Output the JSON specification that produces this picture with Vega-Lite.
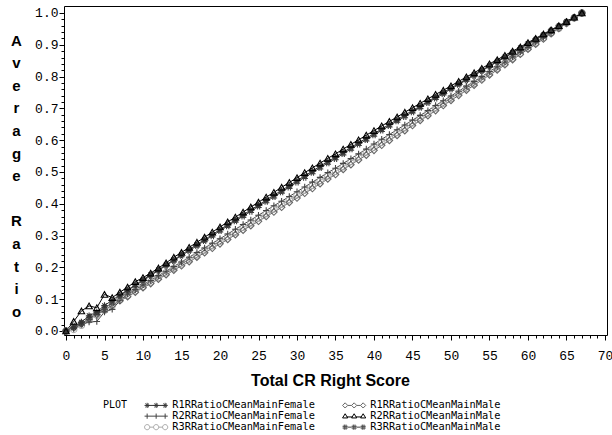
{
"$schema": "https://vega.github.io/schema/vega-lite/v6.json",
"width": 543, "height": 329,
"autosize": "none",
"padding": {"left": 64, "top": 6, "right": 5, "bottom": 100},
"background": "white",
"config": {"view": {"stroke": "black", "strokeWidth": 1}, "axis": {"grid": false, "domain": false, "tickColor": "black", "tickWidth": 1, "labelColor": "black", "titleColor": "black"}},
"data": {"values": [
{"s":"C","x":0,"y":0},{"s":"C","x":1,"y":0.005},{"s":"C","x":2,"y":0.018},{"s":"C","x":3,"y":0.035},{"s":"C","x":4,"y":0.050},{"s":"C","x":5,"y":0.065},{"s":"C","x":6,"y":0.080},{"s":"C","x":7,"y":0.098},{"s":"C","x":8,"y":0.112},{"s":"C","x":9,"y":0.126},{"s":"C","x":10,"y":0.140},{"s":"C","x":11,"y":0.154},{"s":"C","x":12,"y":0.168},{"s":"C","x":13,"y":0.183},{"s":"C","x":14,"y":0.197},{"s":"C","x":15,"y":0.211},{"s":"C","x":16,"y":0.225},{"s":"C","x":17,"y":0.239},{"s":"C","x":18,"y":0.254},{"s":"C","x":19,"y":0.268},{"s":"C","x":20,"y":0.282},{"s":"C","x":21,"y":0.297},{"s":"C","x":22,"y":0.311},{"s":"C","x":23,"y":0.326},{"s":"C","x":24,"y":0.340},{"s":"C","x":25,"y":0.355},{"s":"C","x":26,"y":0.369},{"s":"C","x":27,"y":0.384},{"s":"C","x":28,"y":0.399},{"s":"C","x":29,"y":0.413},{"s":"C","x":30,"y":0.428},{"s":"C","x":31,"y":0.443},{"s":"C","x":32,"y":0.458},{"s":"C","x":33,"y":0.473},{"s":"C","x":34,"y":0.488},{"s":"C","x":35,"y":0.502},{"s":"C","x":36,"y":0.517},{"s":"C","x":37,"y":0.533},{"s":"C","x":38,"y":0.548},{"s":"C","x":39,"y":0.563},{"s":"C","x":40,"y":0.578},{"s":"C","x":41,"y":0.593},{"s":"C","x":42,"y":0.609},{"s":"C","x":43,"y":0.624},{"s":"C","x":44,"y":0.639},{"s":"C","x":45,"y":0.654},{"s":"C","x":46,"y":0.670},{"s":"C","x":47,"y":0.685},{"s":"C","x":48,"y":0.701},{"s":"C","x":49,"y":0.716},{"s":"C","x":50,"y":0.732},{"s":"C","x":51,"y":0.748},{"s":"C","x":52,"y":0.763},{"s":"C","x":53,"y":0.779},{"s":"C","x":54,"y":0.794},{"s":"C","x":55,"y":0.810},{"s":"C","x":56,"y":0.826},{"s":"C","x":57,"y":0.842},{"s":"C","x":58,"y":0.858},{"s":"C","x":59,"y":0.873},{"s":"C","x":60,"y":0.889},{"s":"C","x":61,"y":0.905},{"s":"C","x":62,"y":0.921},{"s":"C","x":63,"y":0.937},{"s":"C","x":64,"y":0.952},{"s":"C","x":65,"y":0.968},{"s":"C","x":66,"y":0.984},{"s":"C","x":67,"y":1.0},
{"s":"D","x":0,"y":0},{"s":"D","x":1,"y":0.010},{"s":"D","x":2,"y":0.025},{"s":"D","x":3,"y":0.038},{"s":"D","x":4,"y":0.052},{"s":"D","x":5,"y":0.066},{"s":"D","x":6,"y":0.080},{"s":"D","x":7,"y":0.095},{"s":"D","x":8,"y":0.108},{"s":"D","x":9,"y":0.122},{"s":"D","x":10,"y":0.136},{"s":"D","x":11,"y":0.149},{"s":"D","x":12,"y":0.163},{"s":"D","x":13,"y":0.177},{"s":"D","x":14,"y":0.191},{"s":"D","x":15,"y":0.205},{"s":"D","x":16,"y":0.218},{"s":"D","x":17,"y":0.232},{"s":"D","x":18,"y":0.246},{"s":"D","x":19,"y":0.260},{"s":"D","x":20,"y":0.274},{"s":"D","x":21,"y":0.288},{"s":"D","x":22,"y":0.303},{"s":"D","x":23,"y":0.317},{"s":"D","x":24,"y":0.331},{"s":"D","x":25,"y":0.345},{"s":"D","x":26,"y":0.360},{"s":"D","x":27,"y":0.374},{"s":"D","x":28,"y":0.389},{"s":"D","x":29,"y":0.404},{"s":"D","x":30,"y":0.418},{"s":"D","x":31,"y":0.433},{"s":"D","x":32,"y":0.448},{"s":"D","x":33,"y":0.463},{"s":"D","x":34,"y":0.478},{"s":"D","x":35,"y":0.492},{"s":"D","x":36,"y":0.508},{"s":"D","x":37,"y":0.523},{"s":"D","x":38,"y":0.538},{"s":"D","x":39,"y":0.553},{"s":"D","x":40,"y":0.568},{"s":"D","x":41,"y":0.584},{"s":"D","x":42,"y":0.599},{"s":"D","x":43,"y":0.615},{"s":"D","x":44,"y":0.630},{"s":"D","x":45,"y":0.646},{"s":"D","x":46,"y":0.662},{"s":"D","x":47,"y":0.677},{"s":"D","x":48,"y":0.693},{"s":"D","x":49,"y":0.709},{"s":"D","x":50,"y":0.725},{"s":"D","x":51,"y":0.741},{"s":"D","x":52,"y":0.757},{"s":"D","x":53,"y":0.773},{"s":"D","x":54,"y":0.789},{"s":"D","x":55,"y":0.805},{"s":"D","x":56,"y":0.821},{"s":"D","x":57,"y":0.837},{"s":"D","x":58,"y":0.853},{"s":"D","x":59,"y":0.870},{"s":"D","x":60,"y":0.886},{"s":"D","x":61,"y":0.902},{"s":"D","x":62,"y":0.918},{"s":"D","x":63,"y":0.935},{"s":"D","x":64,"y":0.951},{"s":"D","x":65,"y":0.967},{"s":"D","x":66,"y":0.984},{"s":"D","x":67,"y":1.0},
{"s":"P","x":0,"y":0},{"s":"P","x":1,"y":0.008},{"s":"P","x":2,"y":0.020},{"s":"P","x":3,"y":0.028},{"s":"P","x":4,"y":0.030},{"s":"P","x":5,"y":0.060},{"s":"P","x":6,"y":0.068},{"s":"P","x":7,"y":0.095},{"s":"P","x":8,"y":0.116},{"s":"P","x":9,"y":0.130},{"s":"P","x":10,"y":0.145},{"s":"P","x":11,"y":0.159},{"s":"P","x":12,"y":0.174},{"s":"P","x":13,"y":0.188},{"s":"P","x":14,"y":0.203},{"s":"P","x":15,"y":0.217},{"s":"P","x":16,"y":0.232},{"s":"P","x":17,"y":0.247},{"s":"P","x":18,"y":0.261},{"s":"P","x":19,"y":0.276},{"s":"P","x":20,"y":0.290},{"s":"P","x":21,"y":0.305},{"s":"P","x":22,"y":0.320},{"s":"P","x":23,"y":0.335},{"s":"P","x":24,"y":0.349},{"s":"P","x":25,"y":0.364},{"s":"P","x":26,"y":0.379},{"s":"P","x":27,"y":0.394},{"s":"P","x":28,"y":0.408},{"s":"P","x":29,"y":0.423},{"s":"P","x":30,"y":0.438},{"s":"P","x":31,"y":0.453},{"s":"P","x":32,"y":0.468},{"s":"P","x":33,"y":0.483},{"s":"P","x":34,"y":0.498},{"s":"P","x":35,"y":0.512},{"s":"P","x":36,"y":0.527},{"s":"P","x":37,"y":0.542},{"s":"P","x":38,"y":0.557},{"s":"P","x":39,"y":0.572},{"s":"P","x":40,"y":0.588},{"s":"P","x":41,"y":0.603},{"s":"P","x":42,"y":0.618},{"s":"P","x":43,"y":0.633},{"s":"P","x":44,"y":0.648},{"s":"P","x":45,"y":0.663},{"s":"P","x":46,"y":0.678},{"s":"P","x":47,"y":0.693},{"s":"P","x":48,"y":0.709},{"s":"P","x":49,"y":0.724},{"s":"P","x":50,"y":0.739},{"s":"P","x":51,"y":0.754},{"s":"P","x":52,"y":0.770},{"s":"P","x":53,"y":0.785},{"s":"P","x":54,"y":0.800},{"s":"P","x":55,"y":0.816},{"s":"P","x":56,"y":0.831},{"s":"P","x":57,"y":0.846},{"s":"P","x":58,"y":0.862},{"s":"P","x":59,"y":0.877},{"s":"P","x":60,"y":0.892},{"s":"P","x":61,"y":0.908},{"s":"P","x":62,"y":0.923},{"s":"P","x":63,"y":0.938},{"s":"P","x":64,"y":0.954},{"s":"P","x":65,"y":0.969},{"s":"P","x":66,"y":0.985},{"s":"P","x":67,"y":1.0},
{"s":"H","x":0,"y":0},{"s":"H","x":1,"y":0.016},{"s":"H","x":2,"y":0.022},{"s":"H","x":3,"y":0.040},{"s":"H","x":4,"y":0.055},{"s":"H","x":5,"y":0.072},{"s":"H","x":6,"y":0.088},{"s":"H","x":7,"y":0.111},{"s":"H","x":8,"y":0.127},{"s":"H","x":9,"y":0.143},{"s":"H","x":10,"y":0.158},{"s":"H","x":11,"y":0.174},{"s":"H","x":12,"y":0.190},{"s":"H","x":13,"y":0.206},{"s":"H","x":14,"y":0.221},{"s":"H","x":15,"y":0.237},{"s":"H","x":16,"y":0.252},{"s":"H","x":17,"y":0.268},{"s":"H","x":18,"y":0.284},{"s":"H","x":19,"y":0.299},{"s":"H","x":20,"y":0.315},{"s":"H","x":21,"y":0.330},{"s":"H","x":22,"y":0.346},{"s":"H","x":23,"y":0.361},{"s":"H","x":24,"y":0.376},{"s":"H","x":25,"y":0.392},{"s":"H","x":26,"y":0.407},{"s":"H","x":27,"y":0.422},{"s":"H","x":28,"y":0.437},{"s":"H","x":29,"y":0.452},{"s":"H","x":30,"y":0.468},{"s":"H","x":31,"y":0.483},{"s":"H","x":32,"y":0.498},{"s":"H","x":33,"y":0.513},{"s":"H","x":34,"y":0.528},{"s":"H","x":35,"y":0.542},{"s":"H","x":36,"y":0.557},{"s":"H","x":37,"y":0.572},{"s":"H","x":38,"y":0.587},{"s":"H","x":39,"y":0.601},{"s":"H","x":40,"y":0.616},{"s":"H","x":41,"y":0.631},{"s":"H","x":42,"y":0.645},{"s":"H","x":43,"y":0.660},{"s":"H","x":44,"y":0.674},{"s":"H","x":45,"y":0.689},{"s":"H","x":46,"y":0.703},{"s":"H","x":47,"y":0.718},{"s":"H","x":48,"y":0.732},{"s":"H","x":49,"y":0.746},{"s":"H","x":50,"y":0.761},{"s":"H","x":51,"y":0.775},{"s":"H","x":52,"y":0.789},{"s":"H","x":53,"y":0.803},{"s":"H","x":54,"y":0.818},{"s":"H","x":55,"y":0.832},{"s":"H","x":56,"y":0.846},{"s":"H","x":57,"y":0.860},{"s":"H","x":58,"y":0.874},{"s":"H","x":59,"y":0.888},{"s":"H","x":60,"y":0.902},{"s":"H","x":61,"y":0.916},{"s":"H","x":62,"y":0.930},{"s":"H","x":63,"y":0.944},{"s":"H","x":64,"y":0.958},{"s":"H","x":65,"y":0.972},{"s":"H","x":66,"y":0.986},{"s":"H","x":67,"y":1.0},
{"s":"S","x":0,"y":0},{"s":"S","x":1,"y":0.010},{"s":"S","x":2,"y":0.028},{"s":"S","x":3,"y":0.048},{"s":"S","x":4,"y":0.060},{"s":"S","x":5,"y":0.080},{"s":"S","x":6,"y":0.097},{"s":"S","x":7,"y":0.113},{"s":"S","x":8,"y":0.129},{"s":"S","x":9,"y":0.145},{"s":"S","x":10,"y":0.161},{"s":"S","x":11,"y":0.177},{"s":"S","x":12,"y":0.192},{"s":"S","x":13,"y":0.208},{"s":"S","x":14,"y":0.224},{"s":"S","x":15,"y":0.240},{"s":"S","x":16,"y":0.256},{"s":"S","x":17,"y":0.272},{"s":"S","x":18,"y":0.287},{"s":"S","x":19,"y":0.303},{"s":"S","x":20,"y":0.319},{"s":"S","x":21,"y":0.334},{"s":"S","x":22,"y":0.350},{"s":"S","x":23,"y":0.365},{"s":"S","x":24,"y":0.381},{"s":"S","x":25,"y":0.396},{"s":"S","x":26,"y":0.412},{"s":"S","x":27,"y":0.427},{"s":"S","x":28,"y":0.442},{"s":"S","x":29,"y":0.457},{"s":"S","x":30,"y":0.473},{"s":"S","x":31,"y":0.488},{"s":"S","x":32,"y":0.503},{"s":"S","x":33,"y":0.518},{"s":"S","x":34,"y":0.533},{"s":"S","x":35,"y":0.547},{"s":"S","x":36,"y":0.562},{"s":"S","x":37,"y":0.577},{"s":"S","x":38,"y":0.592},{"s":"S","x":39,"y":0.606},{"s":"S","x":40,"y":0.621},{"s":"S","x":41,"y":0.635},{"s":"S","x":42,"y":0.650},{"s":"S","x":43,"y":0.664},{"s":"S","x":44,"y":0.679},{"s":"S","x":45,"y":0.693},{"s":"S","x":46,"y":0.707},{"s":"S","x":47,"y":0.722},{"s":"S","x":48,"y":0.736},{"s":"S","x":49,"y":0.750},{"s":"S","x":50,"y":0.764},{"s":"S","x":51,"y":0.778},{"s":"S","x":52,"y":0.792},{"s":"S","x":53,"y":0.806},{"s":"S","x":54,"y":0.820},{"s":"S","x":55,"y":0.834},{"s":"S","x":56,"y":0.848},{"s":"S","x":57,"y":0.862},{"s":"S","x":58,"y":0.876},{"s":"S","x":59,"y":0.890},{"s":"S","x":60,"y":0.904},{"s":"S","x":61,"y":0.917},{"s":"S","x":62,"y":0.931},{"s":"S","x":63,"y":0.945},{"s":"S","x":64,"y":0.959},{"s":"S","x":65,"y":0.973},{"s":"S","x":66,"y":0.986},{"s":"S","x":67,"y":1.0},
{"s":"T","x":0,"y":0},{"s":"T","x":1,"y":0.030},{"s":"T","x":2,"y":0.063},{"s":"T","x":3,"y":0.079},{"s":"T","x":4,"y":0.073},{"s":"T","x":5,"y":0.115},{"s":"T","x":6,"y":0.105},{"s":"T","x":7,"y":0.122},{"s":"T","x":8,"y":0.138},{"s":"T","x":9,"y":0.155},{"s":"T","x":10,"y":0.168},{"s":"T","x":11,"y":0.182},{"s":"T","x":12,"y":0.198},{"s":"T","x":13,"y":0.214},{"s":"T","x":14,"y":0.232},{"s":"T","x":15,"y":0.247},{"s":"T","x":16,"y":0.263},{"s":"T","x":17,"y":0.279},{"s":"T","x":18,"y":0.295},{"s":"T","x":19,"y":0.311},{"s":"T","x":20,"y":0.327},{"s":"T","x":21,"y":0.343},{"s":"T","x":22,"y":0.358},{"s":"T","x":23,"y":0.374},{"s":"T","x":24,"y":0.390},{"s":"T","x":25,"y":0.405},{"s":"T","x":26,"y":0.421},{"s":"T","x":27,"y":0.436},{"s":"T","x":28,"y":0.452},{"s":"T","x":29,"y":0.467},{"s":"T","x":30,"y":0.482},{"s":"T","x":31,"y":0.498},{"s":"T","x":32,"y":0.513},{"s":"T","x":33,"y":0.528},{"s":"T","x":34,"y":0.543},{"s":"T","x":35,"y":0.557},{"s":"T","x":36,"y":0.572},{"s":"T","x":37,"y":0.587},{"s":"T","x":38,"y":0.601},{"s":"T","x":39,"y":0.616},{"s":"T","x":40,"y":0.630},{"s":"T","x":41,"y":0.645},{"s":"T","x":42,"y":0.659},{"s":"T","x":43,"y":0.673},{"s":"T","x":44,"y":0.688},{"s":"T","x":45,"y":0.702},{"s":"T","x":46,"y":0.716},{"s":"T","x":47,"y":0.730},{"s":"T","x":48,"y":0.744},{"s":"T","x":49,"y":0.757},{"s":"T","x":50,"y":0.771},{"s":"T","x":51,"y":0.785},{"s":"T","x":52,"y":0.799},{"s":"T","x":53,"y":0.812},{"s":"T","x":54,"y":0.826},{"s":"T","x":55,"y":0.840},{"s":"T","x":56,"y":0.853},{"s":"T","x":57,"y":0.867},{"s":"T","x":58,"y":0.880},{"s":"T","x":59,"y":0.893},{"s":"T","x":60,"y":0.907},{"s":"T","x":61,"y":0.920},{"s":"T","x":62,"y":0.934},{"s":"T","x":63,"y":0.947},{"s":"T","x":64,"y":0.960},{"s":"T","x":65,"y":0.973},{"s":"T","x":66,"y":0.987},{"s":"T","x":67,"y":1.0}
]},
"layer": [
{"mark": {"type": "line", "strokeWidth": 1},
 "encoding": {
  "x": {"field": "x", "type": "quantitative", "scale": {"domain": [-0.26, 70.26], "nice": false, "zero": false},
        "axis": {"orient": "bottom", "values": [0,1,2,3,4,5,6,7,8,9,10,11,12,13,14,15,16,17,18,19,20,21,22,23,24,25,26,27,28,29,30,31,32,33,34,35,36,37,38,39,40,41,42,43,44,45,46,47,48,49,50,51,52,53,54,55,56,57,58,59,60,61,62,63,64,65,66,67,68,69,70], "labels": false, "tickSize": 3, "title": null}},
  "y": {"field": "y", "type": "quantitative", "scale": {"domain": [-0.0126, 1.022], "nice": false, "zero": false},
        "axis": {"orient": "left", "values": [0,0.02,0.04,0.06,0.08,0.1,0.12,0.14,0.16,0.18,0.2,0.22,0.24,0.26,0.28,0.3,0.32,0.34,0.36,0.38,0.4,0.42,0.44,0.46,0.48,0.5,0.52,0.54,0.56,0.58,0.6,0.62,0.64,0.66,0.68,0.7,0.72,0.74,0.76,0.78,0.8,0.82,0.84,0.86,0.88,0.9,0.92,0.94,0.96,0.98,1], "labels": false, "tickSize": 3, "title": null}},
  "color": {"field": "s", "type": "nominal", "sort": null, "scale": {"domain": ["S","P","C","D","T","H"], "range": ["#333333","#444444","#aaaaaa","#666666","#000000","#444444"]},
    "legend": {"orient": "none", "legendX": 39, "legendY": 394, "columns": 2, "title": "PLOT", "titleOrient": "left", "titleAnchor": "start", "titleBaseline": "top", "titleFont": "DejaVu Sans Mono", "titleFontSize": 10, "titleFontWeight": "normal", "titlePadding": 15, "titleColor": "black",
      "labelFont": "DejaVu Sans Mono", "labelFontSize": 10.3, "labelColor": "black", "labelOffset": 19, "columnPadding": 25, "rowPadding": -3, "symbolSize": 64, "symbolStrokeWidth": 1, "symbolType": "circle",
      "labelExpr": "datum.label==='S'?'R1RRatioCMeanMainFemale':datum.label==='P'?'R2RRatioCMeanMainFemale':datum.label==='C'?'R3RRatioCMeanMainFemale':datum.label==='D'?'R1RRatioCMeanMainMale':datum.label==='T'?'R2RRatioCMeanMainMale':'R3RRatioCMeanMainMale'",
      "encode": {"symbols": {
        "size": {"value": 64},
        "shape": {"signal": "datum.value==='S'?'M-0.25,0L4.25,0M-0.9,0L0.4,0M-0.25,-0.65L-0.25,0.65M-0.71,-0.46L0.21,0.46M-0.71,0.46L0.21,-0.46M1.35,0L2.65,0M2,-0.65L2,0.65M1.54,-0.46L2.46,0.46M1.54,0.46L2.46,-0.46M3.6,0L4.9,0M4.25,-0.65L4.25,0.65M3.79,-0.46L4.71,0.46M3.79,0.46L4.71,-0.46':datum.value==='P'?'M-0.9,0L4.9,0M-0.25,-0.65L-0.25,0.65M2,-0.65L2,0.65M4.25,-0.65L4.25,0.65':datum.value==='C'?'M0.4,0L1.35,0M2.65,0L3.6,0M-0.9,0A0.65,0.65,0,1,0,0.4,0A0.65,0.65,0,1,0,-0.9,0M1.35,0A0.65,0.65,0,1,0,2.65,0A0.65,0.65,0,1,0,1.35,0M3.6,0A0.65,0.65,0,1,0,4.9,0A0.65,0.65,0,1,0,3.6,0':datum.value==='D'?'M0.4,0L1.35,0M2.65,0L3.6,0M-0.25,-0.65L0.4,0L-0.25,0.65L-0.9,0ZM2,-0.65L2.65,0L2,0.65L1.35,0ZM4.25,-0.65L4.9,0L4.25,0.65L3.6,0Z':datum.value==='T'?'M0.15,0.2L1.6,0.2M2.4,0.2L3.85,0.2M-0.25,-0.6L0.4,0.45L-0.9,0.45ZM2,-0.6L2.65,0.45L1.35,0.45ZM4.25,-0.6L4.9,0.45L3.6,0.45Z':'M0.4,0L1.35,0M2.65,0L3.6,0M-0.9,-0.22L0.4,-0.22M-0.9,0.22L0.4,0.22M-0.47,-0.65L-0.47,0.65M-0.03,-0.65L-0.03,0.65M1.35,-0.22L2.65,-0.22M1.35,0.22L2.65,0.22M1.78,-0.65L1.78,0.65M2.22,-0.65L2.22,0.65M3.6,-0.22L4.9,-0.22M3.6,0.22L4.9,0.22M4.03,-0.65L4.03,0.65M4.47,-0.65L4.47,0.65'"},
        "update": {"size": {"value": 64}, "shape": {"signal": "datum.value==='S'?'M-0.25,0L4.25,0M-0.9,0L0.4,0M-0.25,-0.65L-0.25,0.65M-0.71,-0.46L0.21,0.46M-0.71,0.46L0.21,-0.46M1.35,0L2.65,0M2,-0.65L2,0.65M1.54,-0.46L2.46,0.46M1.54,0.46L2.46,-0.46M3.6,0L4.9,0M4.25,-0.65L4.25,0.65M3.79,-0.46L4.71,0.46M3.79,0.46L4.71,-0.46':datum.value==='P'?'M-0.9,0L4.9,0M-0.25,-0.65L-0.25,0.65M2,-0.65L2,0.65M4.25,-0.65L4.25,0.65':datum.value==='C'?'M0.4,0L1.35,0M2.65,0L3.6,0M-0.9,0A0.65,0.65,0,1,0,0.4,0A0.65,0.65,0,1,0,-0.9,0M1.35,0A0.65,0.65,0,1,0,2.65,0A0.65,0.65,0,1,0,1.35,0M3.6,0A0.65,0.65,0,1,0,4.9,0A0.65,0.65,0,1,0,3.6,0':datum.value==='D'?'M0.4,0L1.35,0M2.65,0L3.6,0M-0.25,-0.65L0.4,0L-0.25,0.65L-0.9,0ZM2,-0.65L2.65,0L2,0.65L1.35,0ZM4.25,-0.65L4.9,0L4.25,0.65L3.6,0Z':datum.value==='T'?'M0.15,0.2L1.6,0.2M2.4,0.2L3.85,0.2M-0.25,-0.6L0.4,0.45L-0.9,0.45ZM2,-0.6L2.65,0.45L1.35,0.45ZM4.25,-0.6L4.9,0.45L3.6,0.45Z':'M0.4,0L1.35,0M2.65,0L3.6,0M-0.9,-0.22L0.4,-0.22M-0.9,0.22L0.4,0.22M-0.47,-0.65L-0.47,0.65M-0.03,-0.65L-0.03,0.65M1.35,-0.22L2.65,-0.22M1.35,0.22L2.65,0.22M1.78,-0.65L1.78,0.65M2.22,-0.65L2.22,0.65M3.6,-0.22L4.9,-0.22M3.6,0.22L4.9,0.22M4.03,-0.65L4.03,0.65M4.47,-0.65L4.47,0.65'"}}}}}}
 }},
{"mark": {"type": "point", "filled": false, "size": 42, "strokeWidth": 1.1, "opacity": 1},
 "encoding": {
  "x": {"field": "x", "type": "quantitative",
        "axis": {"orient": "bottom", "values": [0,5,10,15,20,25,30,35,40,45,50,55,60,65,70], "tickSize": 5, "labelFont": "Liberation Mono", "labelFontSize": 13, "labelPadding": 9,
                 "title": "Total CR Right Score", "titleFont": "Liberation Sans", "titleFontSize": 16, "titleFontWeight": "bold", "titlePadding": 10, "titleX": 266}},
  "y": {"field": "y", "type": "quantitative",
        "axis": {"orient": "left", "values": [0,0.1,0.2,0.3,0.4,0.5,0.6,0.7,0.8,0.9,1], "format": ".1f", "tickSize": 5, "labelFont": "Liberation Mono", "labelFontSize": 13, "labelPadding": 1,
                 "title": ["A","v","e","r","a","g","e","\u200b","R","a","t","i","o"], "titleFont": "Liberation Sans", "titleFontSize": 15, "titleFontWeight": "bold", "titleAngle": 0, "titleAlign": "center", "titleBaseline": "top", "titleLineHeight": 22.6, "titleX": -48, "titleY": 27}},
  "color": {"field": "s", "type": "nominal", "sort": null, "scale": {"domain": ["S","P","C","D","T","H"], "range": ["#333333","#444444","#aaaaaa","#666666","#000000","#444444"]},
    "legend": {"orient": "none", "legendX": 39, "legendY": 394, "columns": 2, "title": "PLOT", "titleOrient": "left", "titleAnchor": "start", "titleBaseline": "top", "titleFont": "DejaVu Sans Mono", "titleFontSize": 10, "titleFontWeight": "normal", "titlePadding": 15, "titleColor": "black",
      "labelFont": "DejaVu Sans Mono", "labelFontSize": 10.3, "labelColor": "black", "labelOffset": 19, "columnPadding": 25, "rowPadding": -3, "symbolSize": 64, "symbolStrokeWidth": 1, "symbolType": "circle",
      "labelExpr": "datum.label==='S'?'R1RRatioCMeanMainFemale':datum.label==='P'?'R2RRatioCMeanMainFemale':datum.label==='C'?'R3RRatioCMeanMainFemale':datum.label==='D'?'R1RRatioCMeanMainMale':datum.label==='T'?'R2RRatioCMeanMainMale':'R3RRatioCMeanMainMale'",
      "encode": {"symbols": {
        "size": {"value": 64},
        "shape": {"signal": "datum.value==='S'?'M-0.25,0L4.25,0M-0.9,0L0.4,0M-0.25,-0.65L-0.25,0.65M-0.71,-0.46L0.21,0.46M-0.71,0.46L0.21,-0.46M1.35,0L2.65,0M2,-0.65L2,0.65M1.54,-0.46L2.46,0.46M1.54,0.46L2.46,-0.46M3.6,0L4.9,0M4.25,-0.65L4.25,0.65M3.79,-0.46L4.71,0.46M3.79,0.46L4.71,-0.46':datum.value==='P'?'M-0.9,0L4.9,0M-0.25,-0.65L-0.25,0.65M2,-0.65L2,0.65M4.25,-0.65L4.25,0.65':datum.value==='C'?'M0.4,0L1.35,0M2.65,0L3.6,0M-0.9,0A0.65,0.65,0,1,0,0.4,0A0.65,0.65,0,1,0,-0.9,0M1.35,0A0.65,0.65,0,1,0,2.65,0A0.65,0.65,0,1,0,1.35,0M3.6,0A0.65,0.65,0,1,0,4.9,0A0.65,0.65,0,1,0,3.6,0':datum.value==='D'?'M0.4,0L1.35,0M2.65,0L3.6,0M-0.25,-0.65L0.4,0L-0.25,0.65L-0.9,0ZM2,-0.65L2.65,0L2,0.65L1.35,0ZM4.25,-0.65L4.9,0L4.25,0.65L3.6,0Z':datum.value==='T'?'M0.15,0.2L1.6,0.2M2.4,0.2L3.85,0.2M-0.25,-0.6L0.4,0.45L-0.9,0.45ZM2,-0.6L2.65,0.45L1.35,0.45ZM4.25,-0.6L4.9,0.45L3.6,0.45Z':'M0.4,0L1.35,0M2.65,0L3.6,0M-0.9,-0.22L0.4,-0.22M-0.9,0.22L0.4,0.22M-0.47,-0.65L-0.47,0.65M-0.03,-0.65L-0.03,0.65M1.35,-0.22L2.65,-0.22M1.35,0.22L2.65,0.22M1.78,-0.65L1.78,0.65M2.22,-0.65L2.22,0.65M3.6,-0.22L4.9,-0.22M3.6,0.22L4.9,0.22M4.03,-0.65L4.03,0.65M4.47,-0.65L4.47,0.65'"},
        "update": {"size": {"value": 64}, "shape": {"signal": "datum.value==='S'?'M-0.25,0L4.25,0M-0.9,0L0.4,0M-0.25,-0.65L-0.25,0.65M-0.71,-0.46L0.21,0.46M-0.71,0.46L0.21,-0.46M1.35,0L2.65,0M2,-0.65L2,0.65M1.54,-0.46L2.46,0.46M1.54,0.46L2.46,-0.46M3.6,0L4.9,0M4.25,-0.65L4.25,0.65M3.79,-0.46L4.71,0.46M3.79,0.46L4.71,-0.46':datum.value==='P'?'M-0.9,0L4.9,0M-0.25,-0.65L-0.25,0.65M2,-0.65L2,0.65M4.25,-0.65L4.25,0.65':datum.value==='C'?'M0.4,0L1.35,0M2.65,0L3.6,0M-0.9,0A0.65,0.65,0,1,0,0.4,0A0.65,0.65,0,1,0,-0.9,0M1.35,0A0.65,0.65,0,1,0,2.65,0A0.65,0.65,0,1,0,1.35,0M3.6,0A0.65,0.65,0,1,0,4.9,0A0.65,0.65,0,1,0,3.6,0':datum.value==='D'?'M0.4,0L1.35,0M2.65,0L3.6,0M-0.25,-0.65L0.4,0L-0.25,0.65L-0.9,0ZM2,-0.65L2.65,0L2,0.65L1.35,0ZM4.25,-0.65L4.9,0L4.25,0.65L3.6,0Z':datum.value==='T'?'M0.15,0.2L1.6,0.2M2.4,0.2L3.85,0.2M-0.25,-0.6L0.4,0.45L-0.9,0.45ZM2,-0.6L2.65,0.45L1.35,0.45ZM4.25,-0.6L4.9,0.45L3.6,0.45Z':'M0.4,0L1.35,0M2.65,0L3.6,0M-0.9,-0.22L0.4,-0.22M-0.9,0.22L0.4,0.22M-0.47,-0.65L-0.47,0.65M-0.03,-0.65L-0.03,0.65M1.35,-0.22L2.65,-0.22M1.35,0.22L2.65,0.22M1.78,-0.65L1.78,0.65M2.22,-0.65L2.22,0.65M3.6,-0.22L4.9,-0.22M3.6,0.22L4.9,0.22M4.03,-0.65L4.03,0.65M4.47,-0.65L4.47,0.65'"}}}}}},
  "shape": {"field": "s", "type": "nominal", "sort": null, "scale": {"domain": ["S","P","C","D","T","H","none"], "range": ["M-1,0L1,0M0,-1L0,1M-0.7,-0.7L0.7,0.7M-0.7,0.7L0.7,-0.7","M-1,0L1,0M0,-1L0,1","circle","diamond","triangle-up","M-1,-0.35L1,-0.35M-1,0.35L1,0.35M-0.35,-1L-0.35,1M0.35,-1L0.35,1","circle"]}, "legend": null}
 }}
],
"resolve": {"axis": {"x": "independent", "y": "independent"}}
}
